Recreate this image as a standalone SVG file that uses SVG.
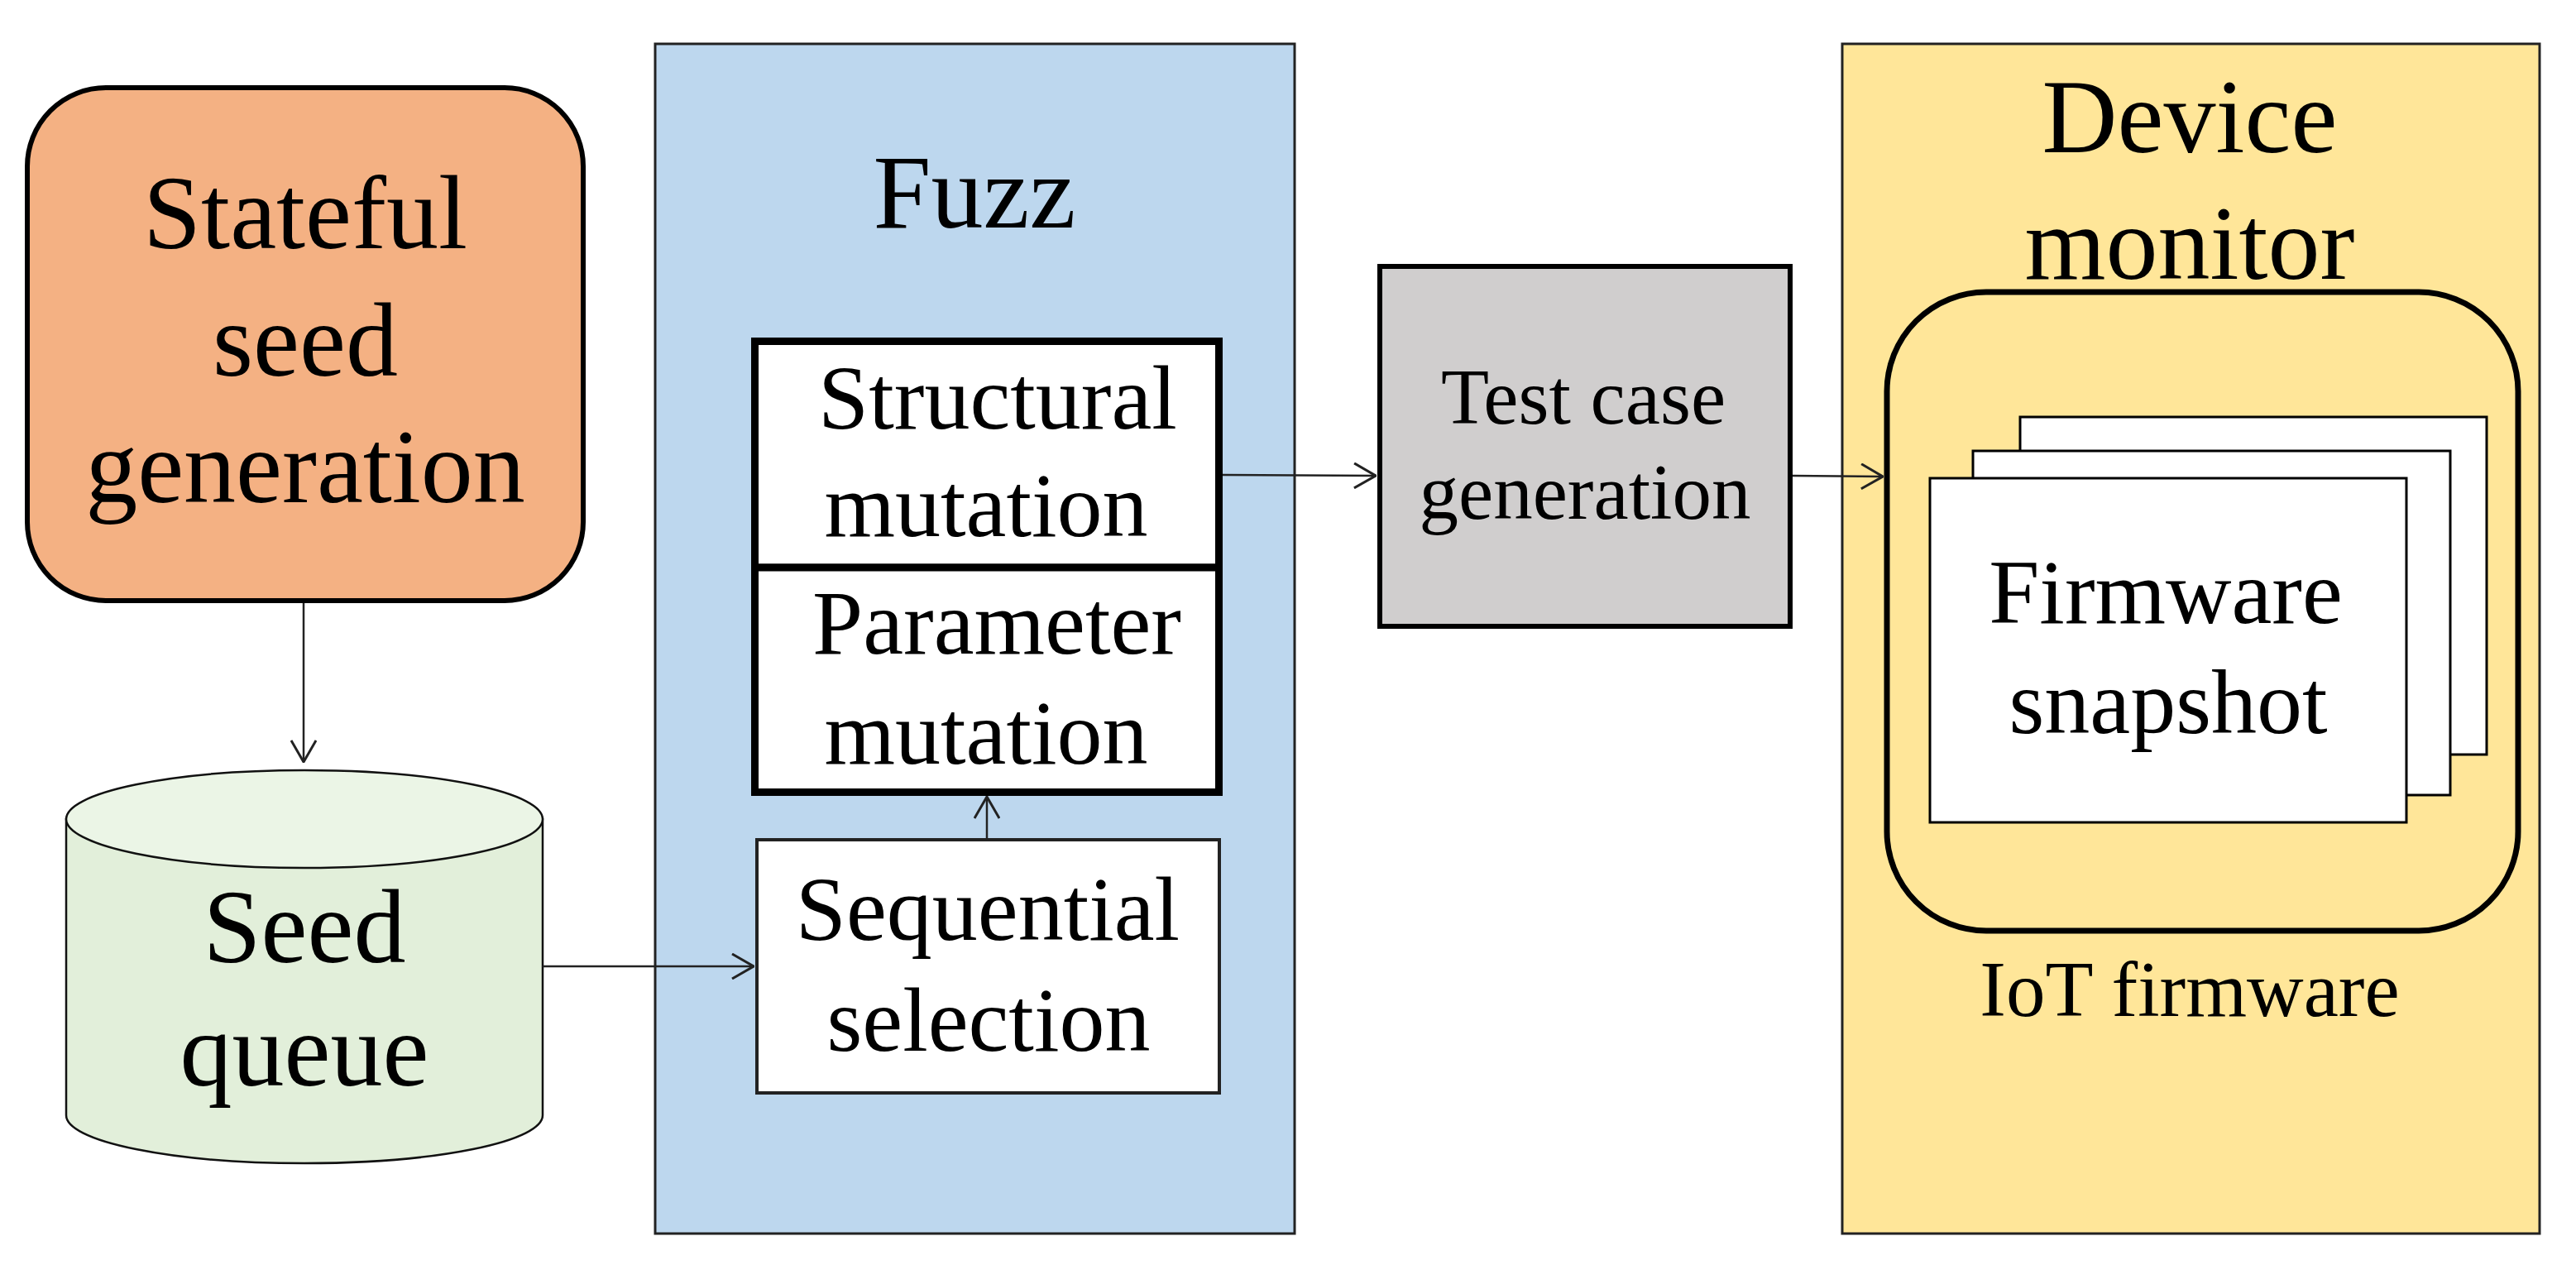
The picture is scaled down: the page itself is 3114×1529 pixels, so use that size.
<svg xmlns="http://www.w3.org/2000/svg" width="3114" height="1529" viewBox="0 0 3114 1529">
<style>
.t{font-family:"Liberation Serif","Times New Roman",serif;fill:#000;text-anchor:middle}
.big{font-size:126px}
.mid{font-size:110px}
.sm{font-size:95px}
.conn{fill:none;stroke:#222;stroke-width:2.5}
</style>
<defs>
<marker id="arr" viewBox="0 0 28 32" refX="27" refY="16" markerWidth="28" markerHeight="32" markerUnits="userSpaceOnUse" orient="auto">
<path d="M1,1 L27,16 L1,31" fill="none" stroke="#222" stroke-width="3"/>
</marker>
</defs>
<rect width="3114" height="1529" fill="#fff"/>

<g id="fuzz">
<rect x="792" y="53" width="773" height="1438" fill="#BDD7EE" stroke="#222" stroke-width="3"/>
<text class="t big" x="1178" y="275">Fuzz</text>
</g>

<g id="device-monitor">
<rect x="2227" y="53" width="843" height="1438" fill="#FFE699" stroke="#222" stroke-width="3"/>
<text class="t big" x="2647" y="184">Device</text>
<text class="t big" x="2647" y="337">monitor</text>
</g>

<g id="stateful-seed-generation">
<rect x="33" y="106" width="672" height="620" rx="95" ry="95" fill="#F4B183" stroke="#000" stroke-width="6"/>
<text class="t big" x="369" y="300">Stateful</text>
<text class="t big" x="369" y="454">seed</text>
<text class="t big" x="369" y="607">generation</text>
</g>

<g id="seed-queue">
<path d="M80,990 L80,1348 A288,58 0 0 0 656,1348 L656,990 Z" fill="#E2EFDA" stroke="#111" stroke-width="2.5"/>
<ellipse cx="368" cy="990" rx="288" ry="59" fill="#EBF5E6" stroke="#111" stroke-width="2.5"/>
<text class="t big" x="368" y="1163">Seed</text>
<text class="t big" x="368" y="1312">queue</text>
</g>

<g id="structural-mutation">
<rect x="912.5" y="412.5" width="561" height="273.5" fill="#fff" stroke="#000" stroke-width="9"/>
<text class="t mid" x="1206" y="518">Structural</text>
<text class="t mid" x="1192" y="648">mutation</text>
</g>

<g id="parameter-mutation">
<rect x="912.5" y="686" width="561" height="271.5" fill="#fff" stroke="#000" stroke-width="9"/>
<text class="t mid" x="1205" y="790">Parameter</text>
<text class="t mid" x="1192" y="923">mutation</text>
</g>

<g id="sequential-selection">
<rect x="915" y="1015" width="559" height="306" fill="#fff" stroke="#222" stroke-width="4"/>
<text class="t mid" x="1194" y="1136">Sequential</text>
<text class="t mid" x="1195" y="1270">selection</text>
</g>

<g id="test-case-generation">
<rect x="1668" y="322" width="496" height="435" fill="#D0CECE" stroke="#000" stroke-width="6"/>
<text class="t sm" x="1914" y="512">Test case</text>
<text class="t sm" x="1916" y="627">generation</text>
</g>

<g id="iot-firmware">
<rect x="2281" y="353" width="763" height="772" rx="120" ry="120" fill="#FFE699" stroke="#000" stroke-width="7"/>
<text class="t sm" x="2647" y="1228">IoT firmware</text>
</g>

<g id="firmware-snapshot">
<rect x="2442" y="504" width="564" height="408" fill="#fff" stroke="#000" stroke-width="3"/>
<rect x="2385" y="545" width="577" height="416" fill="#fff" stroke="#000" stroke-width="3"/>
<rect x="2333" y="578" width="576" height="416" fill="#fff" stroke="#000" stroke-width="3"/>
<text class="t mid" x="2618" y="753">Firmware</text>
<text class="t mid" x="2621" y="886">snapshot</text>
</g>

<g id="connectors">
<line class="conn" x1="367" y1="729" x2="367" y2="921" marker-end="url(#arr)"/>
<line class="conn" x1="656" y1="1168" x2="911" y2="1168" marker-end="url(#arr)"/>
<line class="conn" x1="1193" y1="1013" x2="1193" y2="963" marker-end="url(#arr)"/>
<line class="conn" x1="1478" y1="574" x2="1663" y2="575" marker-end="url(#arr)"/>
<line class="conn" x1="2167" y1="575" x2="2276" y2="576" marker-end="url(#arr)"/>
</g>
</svg>
